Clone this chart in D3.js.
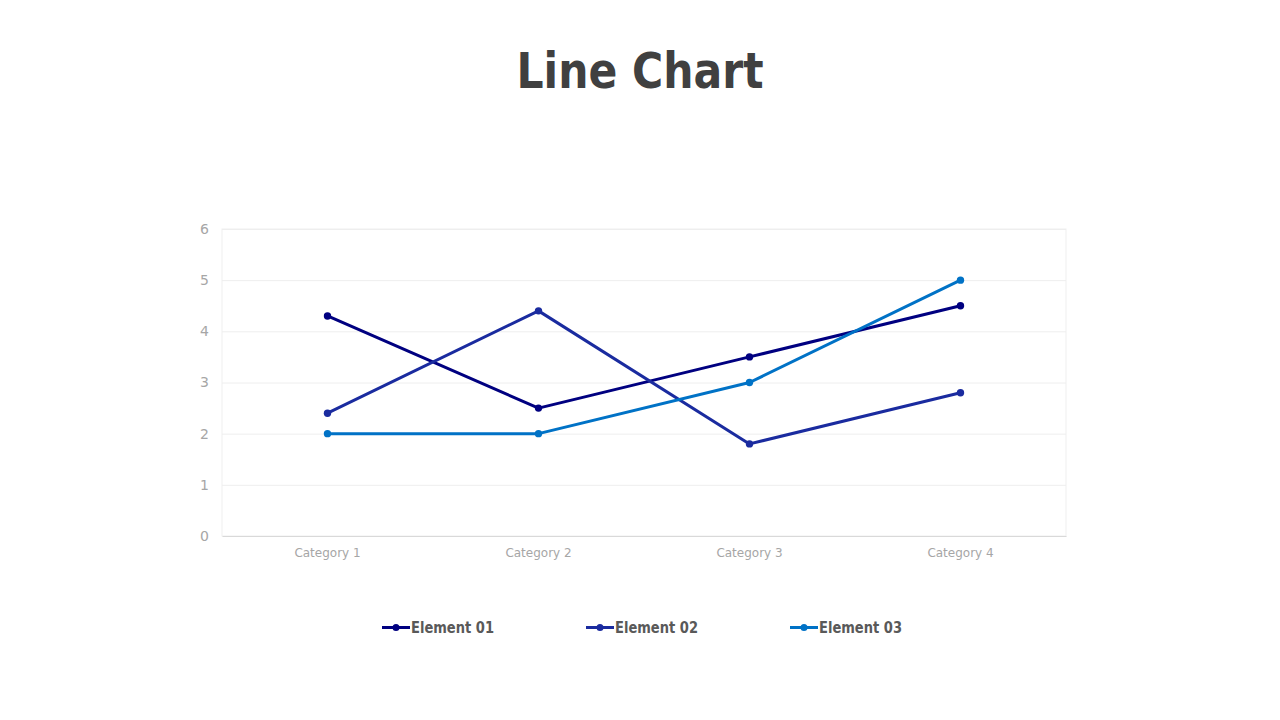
<!DOCTYPE html>
<html><head><meta charset="utf-8">
<script src="https://cdn.jsdelivr.net/npm/d3@7/dist/d3.min.js"></script>
<style>body{margin:0;background:#fff;}svg{display:block;}</style>
</head><body>
<svg id="c" width="1280" height="720"></svg>
<script>
const categories = ["Category 1","Category 2","Category 3","Category 4"];
const seriesNames = ["Element 01","Element 02","Element 03"];
const element01 = [4.3, 2.5, 3.5, 4.5];
const element02 = [2.4, 4.4, 1.8, 2.8];
const element03 = [2, 2, 3, 5];
const yTicks = [0,1,2,3,4,5,6];
const colors = ["#000080","#1a2b9f","#0072c6"];

const svg = d3.select("#c");
const font = "Verdana, 'DejaVu Sans', sans-serif";
const L = 222, R = 1066, T = 229, B = 536;

svg.append("text").attr("x",640).attr("y",88).attr("text-anchor","middle")
  .attr("font-family",font).attr("font-weight","bold").attr("font-size",50)
  .attr("textLength",247).attr("lengthAdjust","spacingAndGlyphs")
  .attr("fill","#404040").text("Line Chart");

const x = d3.scaleBand().domain(categories).range([L,R]);
const y = d3.scaleLinear().domain([0,6]).range([B,T]);

// plot border
svg.append("rect").attr("x",L).attr("y",T).attr("width",R-L).attr("height",B-T)
  .attr("fill","none").attr("stroke","#efefef").attr("stroke-width",1);

// gridlines
svg.append("g").selectAll("line").data(yTicks.filter(d=>d>0)).join("line")
  .attr("x1",L).attr("x2",R).attr("y1",d=>y(d)+0.5).attr("y2",d=>y(d)+0.5)
  .attr("stroke","#eeeeee").attr("stroke-width",1);

// y axis
const ya = svg.append("g").attr("transform",`translate(${L},0)`)
  .call(d3.axisLeft(y).tickValues(yTicks).tickSize(0).tickPadding(13).tickFormat(d3.format("d")));
ya.select(".domain").remove();
ya.selectAll("text").attr("font-family",font).attr("font-size",14).attr("fill","#a6a6a6");

// x axis
const xa = svg.append("g").attr("transform",`translate(0,${B})`)
  .call(d3.axisBottom(x).tickSize(0).tickPadding(12));
xa.select(".domain").attr("stroke","#d9d9d9");
xa.selectAll("text").attr("font-family",font).attr("font-size",12).attr("fill","#a6a6a6");

const data = [element01, element02, element03];
const line = d3.line().x((d,i)=>x(categories[i])+x.bandwidth()/2).y(d=>y(d));

data.forEach((vals,k)=>{
  svg.append("path").datum(vals).attr("d",line).attr("fill","none")
    .attr("stroke",colors[k]).attr("stroke-width",3).attr("stroke-linejoin","round");
  svg.append("g").selectAll("circle").data(vals).join("circle")
    .attr("cx",(d,i)=>x(categories[i])+x.bandwidth()/2).attr("cy",d=>y(d))
    .attr("r",3.7).attr("fill",colors[k]);
});

// legend
const lg = svg.append("g");
seriesNames.forEach((n,k)=>{
  const x0 = 382 + k*204;
  lg.append("line").attr("x1",x0).attr("x2",x0+28).attr("y1",627.5).attr("y2",627.5)
    .attr("stroke",colors[k]).attr("stroke-width",3);
  lg.append("circle").attr("cx",x0+14).attr("cy",627.5).attr("r",3.5).attr("fill",colors[k]);
  lg.append("text").attr("x",x0+29).attr("y",633).attr("font-family",font)
    .attr("font-weight","bold").attr("font-size",15)
    .attr("textLength",83).attr("lengthAdjust","spacingAndGlyphs")
    .attr("fill","#595959").text(n);
});
</script>
</body></html>
